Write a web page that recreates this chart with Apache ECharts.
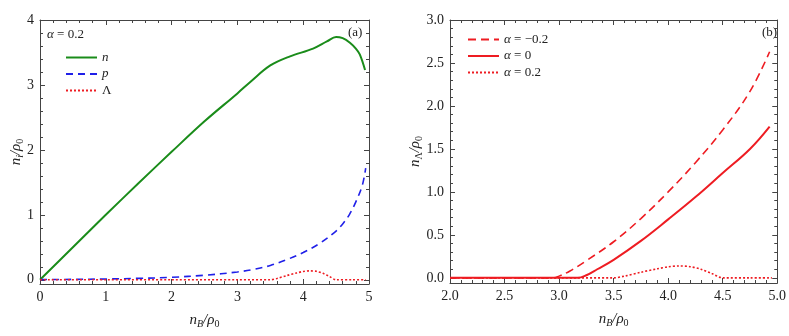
<!DOCTYPE html>
<html><head><meta charset="utf-8">
<script src="https://cdn.jsdelivr.net/npm/echarts@6/dist/echarts.min.js"></script>
<style>html,body{margin:0;padding:0;background:#fff}#c{width:789px;height:336px}</style>
</head><body><div id="c"></div>
<script>
// ---- Panel (a): alpha = 0.2, particle densities ----
const nX = [0,0.5,1,1.5,2,2.5,3,3.2,3.5,3.8,4.15,4.36,4.5,4.6,4.71,4.8,4.86,4.94];
const nY = [0,0.5,1.0,1.49,1.97,2.44,2.87,3.05,3.3,3.44,3.56,3.67,3.74,3.72,3.65,3.56,3.47,3.23];
const pX = [0,0.5,1,1.5,2,2.5,3,3.25,3.5,3.75,4,4.25,4.5,4.6,4.7,4.8,4.9,4.95];
const pY = [0.003,0.006,0.012,0.022,0.038,0.07,0.12,0.16,0.22,0.31,0.42,0.56,0.75,0.86,1.0,1.2,1.46,1.72];
const lamX = [0,1,2,3,3.5,3.6,3.75,3.9,4.0,4.1,4.2,4.3,4.4,4.5,4.75,4.95];
const lamY = [0,0,0,0,0,0.02,0.065,0.105,0.128,0.138,0.13,0.1,0.05,0,0,0];
// ---- Panel (b): Lambda density for several alpha ----
const mX = [2,2.5,2.95,3.0,3.1,3.25,3.5,3.75,4.0,4.25,4.5,4.75,4.93];
const mY = [0,0,0,0.02,0.08,0.2,0.42,0.69,1.0,1.34,1.72,2.17,2.63];
const zX = [2,2.5,3.0,3.17,3.25,3.35,3.5,3.75,4.0,4.25,4.5,4.75,4.93];
const zY = [0,0,0,0,0.03,0.1,0.21,0.43,0.68,0.94,1.22,1.5,1.76];
const aX = [2,2.5,3,3.5,3.6,3.75,3.9,4.0,4.1,4.2,4.3,4.4,4.5,4.75,4.95];
const aY = [0,0,0,0,0.02,0.065,0.105,0.128,0.138,0.13,0.1,0.05,0,0,0];
// tick labels
const aXTicks = [0,1,2,3,4,5];
const aYTicks = [0,1,2,3,4];
const bXTicks = [2.0,2.5,3.0,3.5,4.0,4.5,5.0];
const bYTicks = [0.0,0.5,1.0,1.5,2.0,2.5,3.0];

function range(a,b,s){const r=[];for(let v=a;v<=b+1e-9;v+=s)r.push(+v.toFixed(4));return r;}
function minorsOf(a,b,s,majors){return range(a,b,s).filter(v=>!majors.some(m=>Math.abs(m-v)<1e-6));}

const FONT = 'Liberation Serif';
const frameColor = '#444';

function axesFor(isX, grid, min, max, majors, minors, fmt, name, nameGap){
  const pos = isX ? ['bottom','top'] : ['left','right'];
  const out = [];
  pos.forEach((p,pi)=>{
    [0,1].forEach(kind=>{
      const major = kind===0;
      const a = {
        type:'value', gridIndex:grid, min:min, max:max, position:p,
        axisLine:{show:major, onZero:false, lineStyle:{color:frameColor,width:1}},
        axisTick:{show:true, inside:true, length: major?5:3, customValues: major?majors:minors,
                  lineStyle:{color:frameColor,width:1}},
        axisLabel:{show: major && pi===0, customValues: majors, formatter: fmt,
                   fontFamily:FONT, fontSize:14, color:'#222', margin:6},
        splitLine:{show:false}, minorTick:{show:false}
      };
      if (major && pi===0){
        a.name = name; a.nameLocation='middle'; a.nameGap=nameGap; a.nameMoveOverlap=false;
        a.nameTextStyle = {fontFamily:FONT, color:'#222', fontSize:15,
          rich:{i:{fontFamily:FONT,fontStyle:'italic',fontSize:15,color:'#222'},
                s:{fontFamily:FONT,fontStyle:'italic',fontSize:10,color:'#222',padding:[7,0,0,0]},
                r:{fontFamily:FONT,fontSize:10,color:'#222',padding:[7,0,0,0]}}};
      }
      out.push(a);
    });
  });
  return out;
}

const f0 = v => String(Math.round(v));
const f1 = v => v.toFixed(1);

const xAxes = [].concat(
  axesFor(true,0,0,5,aXTicks,minorsOf(0,5,0.2,aXTicks),f0,'{i|n}{s|B}{i|/ρ}{r|0}',28),
  axesFor(true,1,2,5,bXTicks,minorsOf(2,5,0.1,bXTicks),f1,'{i|n}{s|B}{i|/ρ}{r|0}',28)
);
const yAxes = [].concat(
  axesFor(false,0,-0.065,4,aYTicks,minorsOf(0,4,0.2,aYTicks),f0,'{i|n}{s|i}{i|/ρ}{r|0}',15),
  axesFor(false,1,-0.06,3,bYTicks,minorsOf(0,3,0.1,bYTicks),f1,'{i|n}{r|Λ}{i|/ρ}{r|0}',26)
);

function pairs(xs,ys){return xs.map((x,i)=>[x,ys[i]]);}
function line(name,xi,yi,data,color,type,width,smooth){
  return {name, type:'line', xAxisIndex:xi, yAxisIndex:yi, data, symbol:'none', smooth:smooth,
    lineStyle:{color, type, width}, itemStyle:{color}, z:3, clip:true};
}
const green='#1a8c1a', blue='#2020e8', red='#ee1c22';
const hideSym = {color:'rgba(0,0,0,0)', borderColor:'rgba(0,0,0,0)', borderWidth:0};

const option = {
  animation:false,
  grid:[{left:40,top:20,width:329,height:264},{left:450,top:20,width:334,height:263}],
  xAxis:xAxes, yAxis:yAxes,
  legend:[
    {data:['n','p','Λ'], orient:'vertical', left:60, top:46, itemWidth:31, itemHeight:14, itemGap:3.5,
     itemStyle:hideSym,
     textStyle:{fontFamily:FONT,fontSize:13,color:'#222',rich:{i:{fontFamily:FONT,fontStyle:'italic',fontSize:13,color:'#222'}}},
     formatter: n => n==='Λ' ? n : '{i|'+n+'}'},
    {data:['α = −0.2','α = 0','α = 0.2'], orient:'vertical', left:462, top:28, itemWidth:31, itemHeight:14, itemGap:3.5,
     itemStyle:hideSym,
     textStyle:{fontFamily:FONT,fontSize:13,color:'#222',rich:{i:{fontFamily:FONT,fontStyle:'italic',fontSize:13,color:'#222'}}},
     formatter: n => n.replace('α','{i|α}')}
  ],
  graphic:[
    {type:'text', left:47, top:28, style:{rich:{i:{fontFamily:FONT,fontStyle:'italic',fontSize:13,fill:'#222'},t:{fontFamily:FONT,fontSize:13,fill:'#222'}}, text:'{i|α}{t| = 0.2}'}},
    {type:'text', left:348, top:26, style:{text:'(a)', fontFamily:FONT, fontSize:13, fill:'#222'}},
    {type:'text', left:762, top:26, style:{text:'(b)', fontFamily:FONT, fontSize:13, fill:'#222'}}
  ],
  series:[
    line('n',0,0,pairs(nX,nY),green,'solid',2,0.35),
    line('p',0,0,pairs(pX,pY),blue,[7,5],1.6,0.35),
    line('Λ',0,0,pairs(lamX,lamY),red,[2,2],1.6,0.3),
    line('α = −0.2',4,4,pairs(mX,mY),red,[8,5],1.6,0.4),
    line('α = 0',4,4,pairs(zX,zY),red,'solid',2,0.4),
    line('α = 0.2',4,4,pairs(aX,aY),red,[2,2],1.6,0.3)
  ]
};
echarts.init(document.getElementById('c')).setOption(option);
</script></body></html>
